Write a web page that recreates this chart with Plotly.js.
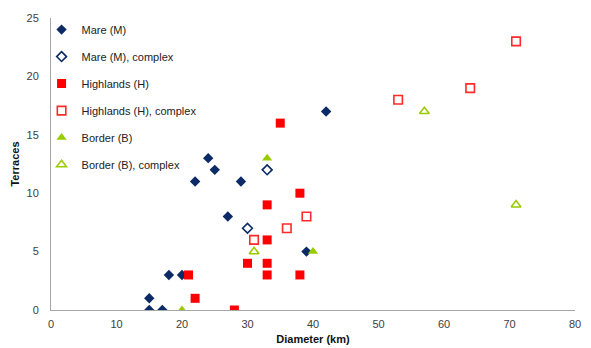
<!DOCTYPE html>
<html>
<head>
<meta charset="utf-8">
<script src="https://cdn.plot.ly/plotly-3.0.1.min.js"></script>
<style>html,body{margin:0;padding:0;background:#fff;}#chart{width:591px;height:348px;}</style>
</head>
<body>
<div id="chart"></div>
<script>
// Mare (M)
const mareX = [15, 17, 15, 18, 20, 22, 25, 24, 29, 27, 39, 42];
const mareY = [0, 0, 1, 3, 3, 11, 12, 13, 11, 8, 5, 17];
// Mare (M), complex
const mareCX = [33, 30];
const mareCY = [12, 7];
// Highlands (H)
const highX = [21, 22, 28, 30, 33, 33, 33, 33, 35, 38, 38];
const highY = [3, 1, 0, 4, 4, 3, 6, 9, 16, 10, 3];
// Highlands (H), complex
const highCX = [31, 36, 39, 53, 64, 71];
const highCY = [6, 7, 8, 18, 19, 23];
// Border (B)
const bordX = [20, 33, 40];
const bordY = [0, 13, 5];
// Border (B), complex
const bordCX = [31, 57, 71];
const bordCY = [5, 17, 9];

const names = ["Mare (M)", "Mare (M), complex", "Highlands (H)", "Highlands (H), complex", "Border (B)", "Border (B), complex"];
const xTicks = [0, 10, 20, 30, 40, 50, 60, 70, 80];
const yTicks = [0, 5, 10, 15, 20, 25];

const navy = "#0b2a66", red = "#ff0000", green = "#99cc00";

function tr(x, y, name, symbol, color, hollow, size, g) {
  return {
    type: "scatter", mode: "markers", x: x, y: y, name: name, legendgroup: g,
    marker: hollow
      ? {symbol: symbol + "-open", size: size, color: color, line: {color: color, width: 1.6}}
      : {symbol: symbol, size: size, color: color, line: {width: 0}}
  };
}

const data = [
  tr(mareX, mareY, names[0], "diamond", navy, false, 8, "a"),
  tr(mareCX, mareCY, names[1], "diamond", navy, true, 7.5, "b"),
  tr(highX, highY, names[2], "square", red, false, 9, "c"),
  tr(highCX, highCY, names[3], "square", "#ff2a2a", true, 8.5, "d"),
  tr(bordX, bordY, names[4], "triangle-up", green, false, 9, "e"),
  tr(bordCX, bordCY, names[5], "triangle-up", green, true, 8.5, "f")
];

const font = {family: "Liberation Sans, Arial, sans-serif", size: 11, color: "#404040"};
const layout = {
  width: 591, height: 348,
  margin: {l: 51, r: 16, t: 18, b: 38},
  paper_bgcolor: "#fff", plot_bgcolor: "#fff",
  font: font,
  showlegend: true,
  legend: {
    x: -0.018, y: 1.01, xanchor: "left", yanchor: "top",
    bgcolor: "rgba(0,0,0,0)", borderwidth: 0,
    font: {family: font.family, size: 11, color: "#222"},
    tracegroupgap: 8, itemsizing: "trace"
  },
  xaxis: {
    range: [0, 80], tickvals: xTicks, ticktext: xTicks.map(String),
    showgrid: false, zeroline: false, showline: true, linecolor: "#a6a6a6", linewidth: 1,
    ticks: "", ticklabelstandoff: 4, tickfont: {size: 11, color: "#404040"},
    title: {text: "<b>Diameter (km)</b>", font: {size: 11, color: "#111"}, standoff: 6}
  },
  yaxis: {
    range: [0, 25], tickvals: yTicks, ticktext: yTicks.map(String),
    showgrid: false, zeroline: false, showline: true, linecolor: "#a6a6a6", linewidth: 1,
    ticks: "", ticklabelstandoff: 9, tickfont: {size: 11, color: "#404040"},
    title: {text: "<b>Terraces</b>", font: {size: 11, color: "#111"}, standoff: 4}
  }
};

Plotly.newPlot("chart", data, layout, {displayModeBar: false, staticPlot: true});
</script>
</body>
</html>
